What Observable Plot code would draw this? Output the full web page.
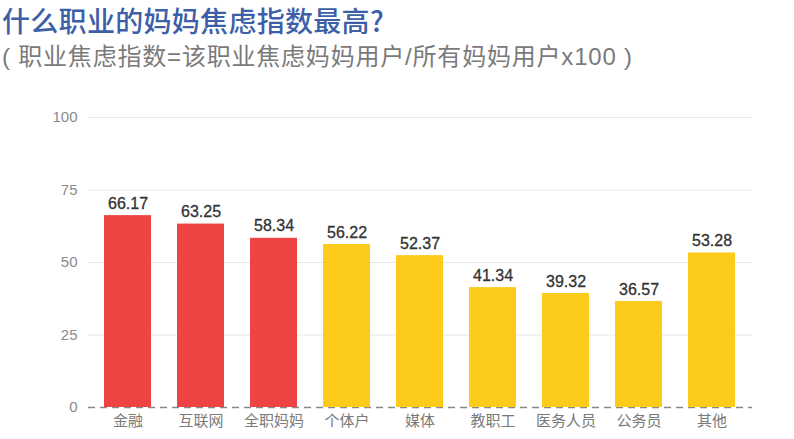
<!DOCTYPE html>
<html><head><meta charset="utf-8">
<script src="https://cdn.jsdelivr.net/npm/d3@7"></script>
<script src="https://cdn.jsdelivr.net/npm/@observablehq/plot@0.6"></script>
<style>
body{margin:0;background:#fff;font-family:"Liberation Sans","Noto Sans CJK SC",sans-serif;}
#title{position:absolute;left:2px;top:4px;font-size:28px;line-height:32px;color:#3d5fa8;font-weight:500;font-family:"Noto Sans CJK SC",sans-serif;letter-spacing:0.3px;}
#sub{position:absolute;left:2px;top:42px;font-size:24px;line-height:30px;color:#7a7a7a;letter-spacing:0.8px;}
#chart{position:absolute;left:0;top:80px;}
</style></head><body>
<div id="title">什么职业的妈妈焦虑指数最高?</div>
<div id="sub">( 职业焦虑指数=该职业焦虑妈妈用户/所有妈妈用户x100 )</div>
<div id="chart"></div>
<script>
const categories = ["金融","互联网","全职妈妈","个体户","媒体","教职工","医务人员","公务员","其他"];
const values = [66.17,63.25,58.34,56.22,52.37,41.34,39.32,36.57,53.28];
const groups = ["high","high","high","low","low","low","low","low","low"];
const yTicks = [0,25,50,75,100];
const data = categories.map((c,i)=>({cat:c,val:values[i],grp:groups[i]}));
const ff = '"Liberation Sans","Noto Sans CJK SC",sans-serif';
const chart = Plot.plot({
  width: 794, height: 359,
  marginLeft: 88, marginRight: 42, marginTop: 37, marginBottom: 32,
  style:{fontFamily:ff, background:"#fff"},
  x:{domain:categories, paddingInner:0.35, paddingOuter:0.17, label:null},
  y:{domain:[0,100], ticks:yTicks, label:null},
  color:{domain:["high","low"], range:["#ef4444","#fccb1b"]},
  marks:[
    Plot.gridY(yTicks.filter(d=>d>0), {stroke:"#e6e6e6", strokeOpacity:1}),
    Plot.axisY({ticks:yTicks, tickSize:0, tickPadding:11, fontSize:15, color:"#8a8a8a", label:null}),
    Plot.axisX({tickSize:0, tickPadding:8, fontSize:15, color:"#7a7a7a", label:null}),
    Plot.ruleY([0],{stroke:"#888", strokeDasharray:"7,5", strokeWidth:1.5}),
    Plot.barY(data,{x:"cat", y:"val", fill:"grp"}),
    Plot.text(data,{x:"cat", y:"val", text:d=>d.val.toFixed(2), dy:-12, fontSize:16, fill:"#333", stroke:"#333", strokeWidth:0.3})
  ]
});
document.getElementById("chart").appendChild(chart);
</script>
</body></html>
